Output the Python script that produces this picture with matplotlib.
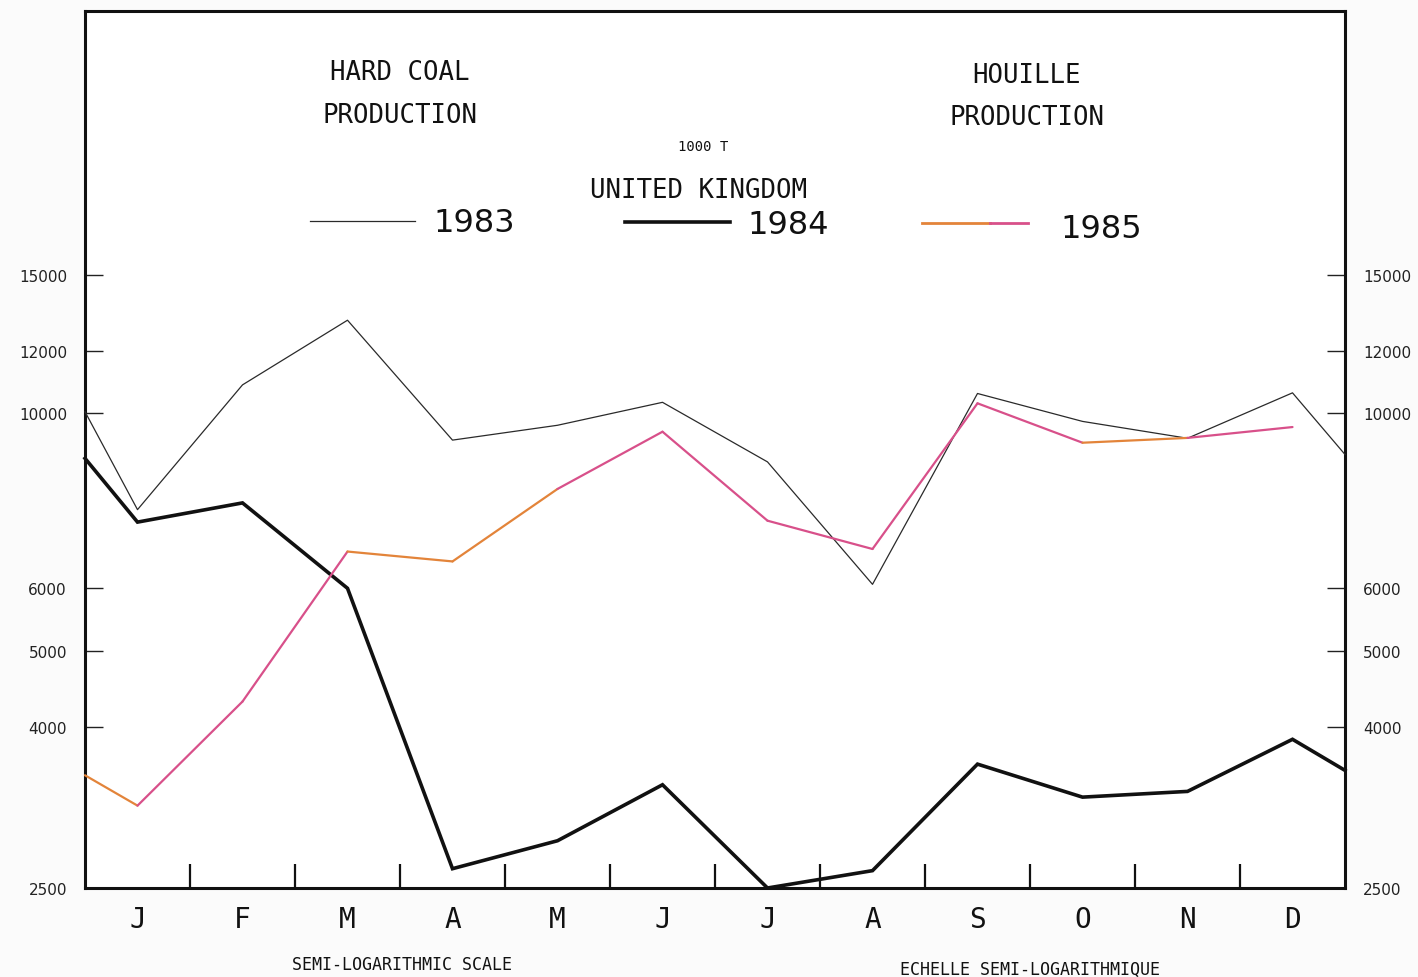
import matplotlib
matplotlib.use("Agg")
import matplotlib.pyplot as plt
from matplotlib.ticker import FixedLocator, NullFormatter, FixedFormatter
import numpy as np

# ---------------- data ----------------
months = ['J', 'F', 'M', 'A', 'M', 'J', 'J', 'A', 'S', 'O', 'N', 'D']
prod_1983 = [7550, 10870, 13130, 9250, 9660, 10330, 8680, 6070, 10600, 9770, 9300, 10620]
edge_1983 = [10050, 8870]         # values at left / right frame edges
prod_1984 = [7280, 7700, 6000, 2645, 2870, 3380, 2500, 2630, 3590, 3260, 3315, 3860]
edge_1984 = [8770, 3525]
prod_1985 = [3180, 4310, 6680, 6490, 8020, 9480, 7310, 6730, 10300, 9180, 9310, 9610]
start_1985 = 3475
ytick_vals = [2500, 4000, 5000, 6000, 10000, 12000, 15000]

# ---------------- styles ----------------
PINK = '#d8508a'
ORANGE = '#e3843a'
seg_colors_1985 = [ORANGE, PINK, PINK, ORANGE, ORANGE, PINK, PINK, PINK, PINK, PINK, ORANGE, PINK]
MONO = 'DejaVu Sans Mono'

fig = plt.figure(figsize=(14.18, 9.78), dpi=100)
fig.patch.set_facecolor('#fbfbfb')
ax = fig.add_axes([85 / 1418, 1 - 889 / 978, (1345 - 85) / 1418, (889 - 12) / 978])
ax.set_facecolor('white')
ax.set_yscale('log')
ax.set_xlim(0.5, 12.5)
ax.set_ylim(2500, 32400)

x = np.arange(1, 13)
x_full = np.concatenate([[0.5], x, [12.5]])

y83 = np.concatenate([[edge_1983[0]], prod_1983, [edge_1983[1]]])
ax.plot(x_full, y83, color='#2a2a2a', lw=0.9, clip_on=False, zorder=3)

y84 = np.concatenate([[edge_1984[0]], prod_1984, [edge_1984[1]]])
ax.plot(x_full, y84, color='#111111', lw=2.6, clip_on=False, zorder=4,
        solid_joinstyle='miter')

x85 = np.concatenate([[0.5], x])
y85 = np.concatenate([[start_1985], prod_1985])
for i in range(len(x85) - 1):
    ax.plot(x85[i:i + 2], y85[i:i + 2], color=seg_colors_1985[i], lw=1.6,
            clip_on=False, zorder=5, solid_capstyle='round')

# frame
for s in ax.spines.values():
    s.set_linewidth(2.2)
    s.set_color('#111111')

# y ticks (both sides, inward)
ax.yaxis.set_major_locator(FixedLocator(ytick_vals))
ax.yaxis.set_major_formatter(FixedFormatter([str(v) for v in ytick_vals]))
ax.yaxis.set_minor_locator(FixedLocator([]))
ax.yaxis.set_minor_formatter(NullFormatter())
ax.tick_params(axis='y', which='major', direction='in', length=13, width=1.0,
               left=True, right=True, labelleft=True, labelright=True,
               labelsize=11, pad=13, colors='#222222')

# x: month labels at centres, boundary ticks
ax.set_xticks(x)
ax.set_xticklabels(months)
ax.set_xticks(np.arange(1.5, 12.5, 1.0), minor=True)
ax.tick_params(axis='x', which='major', length=0, labelsize=20, pad=12,
               colors='#111111')
ax.tick_params(axis='x', which='minor', direction='in', length=17, width=1.6,
               color='#111111')
for lab in ax.get_xticklabels():
    lab.set_fontfamily(MONO)

# titles and legend text
def T(xp, yp, s, size, family=MONO, **kw):
    fig.text(xp / 1418, 1 - yp / 978, s, fontsize=size, family=family,
             ha='center', va='center', color='#111111', **kw)

T(400, 73, 'HARD COAL', 18.5)
T(400, 116, 'PRODUCTION', 18.5)
T(1026, 76, 'HOUILLE', 18.5)
T(1027, 118, 'PRODUCTION', 18.5)
T(703, 147, '1000 T', 10)
T(698, 191, 'UNITED KINGDOM', 18.5)
T(474, 224, '1983', 23, family='DejaVu Sans')
T(788, 226, '1984', 23, family='DejaVu Sans')
T(1101, 229, '1985', 23, family='DejaVu Sans')
T(402, 965, 'SEMI-LOGARITHMIC SCALE', 12)
T(1030, 970, 'ECHELLE SEMI-LOGARITHMIQUE', 12)

# legend line samples
def L(x0, x1, yp, **kw):
    fig.add_artist(plt.Line2D([x0 / 1418, x1 / 1418], [1 - yp / 978] * 2,
                              transform=fig.transFigure, **kw))

L(310, 415, 222, color='#2a2a2a', lw=0.9)
L(625, 730, 223, color='#111111', lw=2.6)
L(922, 990, 224, color=ORANGE, lw=2.0)
L(990, 1028, 224, color=PINK, lw=2.0)

fig.savefig('out.png', dpi=100, facecolor=fig.get_facecolor())
